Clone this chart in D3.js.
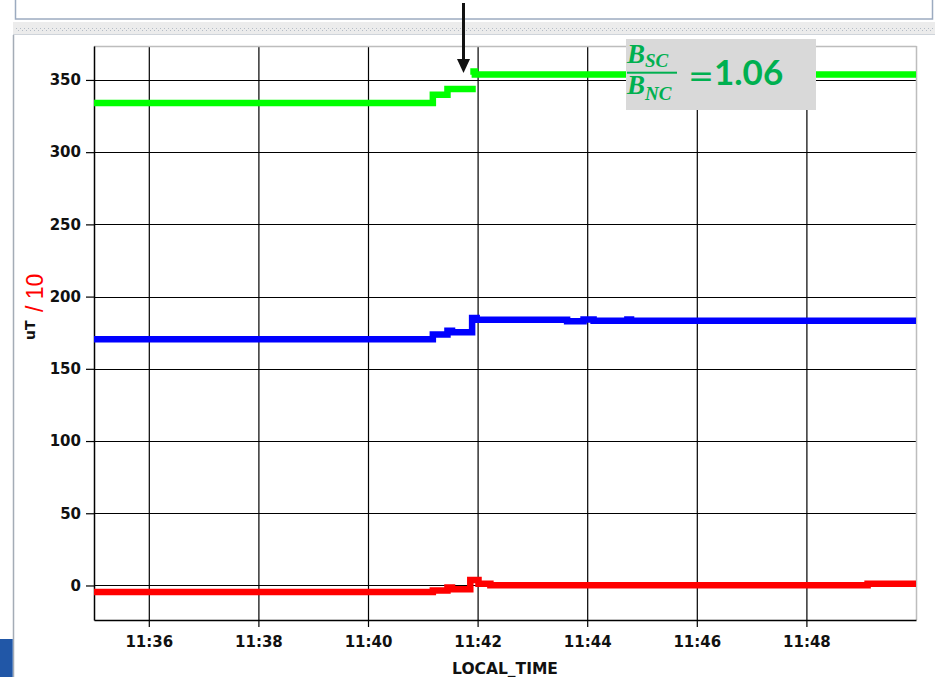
<!DOCTYPE html>
<html>
<head>
<meta charset="utf-8">
<script src="https://cdn.jsdelivr.net/npm/d3@7"></script>
<style>
  html, body { margin: 0; padding: 0; background: #ffffff; }
  svg { display: block; }
</style>
</head>
<body>
<svg id="chart" width="938" height="677"></svg>
<script>
// Magnetometer trace: field components (uT / 10) versus local time
const day = "2000-01-01T";

const xTickLabels = ["11:36", "11:38", "11:40", "11:42", "11:44", "11:46", "11:48"];
const yTickValues = [0, 50, 100, 150, 200, 250, 300, 350];
const timeDomain = ["11:35:00", "11:50:00"];
const valueDomain = [-23.9, 373.5];

// Green trace (two recorded segments)
const greenTimesA = ["11:35:00", "11:41:11", "11:41:27", "11:41:58"];
const greenValuesA = [334.0, 339.8, 343.8, 343.8];
const greenTimesB = ["11:41:52", "11:41:57", "11:50:00"];
const greenValuesB = [355.8, 353.8, 353.8];

// Blue trace
const blueTimes = ["11:35:00", "11:41:11", "11:41:27", "11:41:32", "11:41:54", "11:41:59", "11:43:38", "11:43:56", "11:44:07", "11:44:44", "11:44:48", "11:50:00"];
const blueValues = [170.5, 173.7, 176.3, 175.3, 185.2, 184.0, 183.0, 184.2, 183.2, 184.2, 183.2, 183.2];

// Red trace
const redTimes = ["11:35:00", "11:41:11", "11:41:27", "11:41:32", "11:41:52", "11:42:01", "11:42:14", "11:49:07", "11:50:00"];
const redValues = [-4.6, -3.5, -1.4, -2.6, 3.8, 1.2, 0.2, 1.2, 1.2];

// Ratio annotation
const ratioValue = "1.06";

const parseT = s => new Date(day + s);
const pairs = (ts, vs) => ts.map((t, i) => ({ t: parseT(t), v: vs[i] }));

const svg = d3.select("#chart");
const margin = { left: 94, top: 46, right: 916, bottom: 620 };

const x = d3.scaleTime().domain(timeDomain.map(parseT)).range([margin.left, margin.right]);
const y = d3.scaleLinear().domain(valueDomain).range([margin.bottom, margin.top]);

// ---------- window chrome ----------
svg.append("rect").attr("x", 0).attr("y", 0).attr("width", 938).attr("height", 677).attr("fill", "#ffffff");

// upper panel
svg.append("rect")
  .attr("x", 15.5).attr("y", -2).attr("width", 917).attr("height", 21)
  .attr("fill", "#ffffff").attr("stroke", "#9cabc0").attr("stroke-width", 1.5);

// splitter strip with dotted grip
const defs = svg.append("defs");
const pat = defs.append("pattern").attr("id", "grip").attr("patternUnits", "userSpaceOnUse")
  .attr("width", 4).attr("height", 4);
pat.append("rect").attr("width", 4).attr("height", 4).attr("fill", "#ececec");
pat.append("rect").attr("x", 0).attr("y", 0).attr("width", 1).attr("height", 1).attr("fill", "#b4bcc6");
pat.append("rect").attr("x", 2).attr("y", 2).attr("width", 1).attr("height", 1).attr("fill", "#b4bcc6");
svg.append("rect").attr("x", 13).attr("y", 22).attr("width", 922).attr("height", 12).attr("fill", "#ececec");
svg.append("rect").attr("x", 16).attr("y", 27).attr("width", 918).attr("height", 4).attr("fill", "url(#grip)");
svg.append("line").attr("x1", 13).attr("x2", 935).attr("y1", 34.5).attr("y2", 34.5)
  .attr("stroke", "#cfd4da").attr("stroke-width", 1);

// lower panel edge
svg.append("line").attr("x1", 13.5).attr("x2", 13.5).attr("y1", 35).attr("y2", 677)
  .attr("stroke", "#a4acb6").attr("stroke-width", 1.5);
svg.append("rect").attr("x", 0).attr("y", 639).attr("width", 12.7).attr("height", 38).attr("fill", "#2157a7");

// ---------- grid ----------
const grid = svg.append("g");
grid.selectAll("line.v").data(xTickLabels).join("line")
  .attr("x1", d => x(parseT(d + ":00")) + 0.5).attr("x2", d => x(parseT(d + ":00")) + 0.5)
  .attr("y1", margin.top).attr("y2", margin.bottom)
  .attr("stroke", "#000").attr("stroke-width", 1.2);
grid.selectAll("line.h").data(yTickValues).join("line")
  .attr("x1", margin.left).attr("x2", margin.right)
  .attr("y1", d => Math.round(y(d)) + 0.5).attr("y2", d => Math.round(y(d)) + 0.5)
  .attr("stroke", "#000").attr("stroke-width", 1.2);

// plot frame: light top/right, dark left/bottom
svg.append("line").attr("x1", margin.left).attr("x2", margin.right + 0.5).attr("y1", margin.top + 0.5).attr("y2", margin.top + 0.5)
  .attr("stroke", "#bdbdbd").attr("stroke-width", 1.5);
svg.append("line").attr("x1", margin.right + 0.5).attr("x2", margin.right + 0.5).attr("y1", margin.top).attr("y2", margin.bottom)
  .attr("stroke", "#bdbdbd").attr("stroke-width", 1.5);

// ---------- axes ----------
const axisFont = "'DejaVu Sans', Verdana, sans-serif";

const yAxis = svg.append("g").attr("transform", `translate(${margin.left},0)`)
  .call(d3.axisLeft(y).tickValues(yTickValues).tickSize(8).tickSizeOuter(0).tickPadding(5)
    .tickFormat(d3.format("d")));
const xAxis = svg.append("g").attr("transform", `translate(0,${margin.bottom})`)
  .call(d3.axisBottom(x).tickValues(xTickLabels.map(d => parseT(d + ":00"))).tickSize(7).tickSizeOuter(0)
    .tickPadding(9).tickFormat((d, i) => xTickLabels[i]));

[yAxis, xAxis].forEach(a => {
  a.select(".domain").attr("stroke", "#000").attr("stroke-width", 1.5);
  a.selectAll(".tick line").attr("stroke", "#000").attr("stroke-width", 1.2);
  a.selectAll(".tick text").attr("fill", "#111").attr("font-family", axisFont)
    .attr("font-weight", "bold").attr("font-size", 15);
});

// axis titles
svg.append("text").attr("x", 505).attr("y", 674).attr("text-anchor", "middle")
  .attr("font-family", axisFont).attr("font-weight", "bold").attr("font-size", 15.5).attr("fill", "#111")
  .text("LOCAL_TIME");
svg.append("text").attr("transform", "translate(35,340) rotate(-90)")
  .attr("font-family", axisFont).attr("font-weight", "bold").attr("font-size", 14).attr("fill", "#111")
  .text("uT");
svg.append("text").attr("transform", "translate(43,312) rotate(-90)")
  .attr("font-family", "'Liberation Sans', Arial, sans-serif").attr("font-size", 23).attr("fill", "#ff0000")
  .text("/ 10");

// ---------- traces ----------
const line = d3.line().x(d => x(d.t)).y(d => y(d.v)).curve(d3.curveStepAfter);
const traces = [
  { data: pairs(redTimes, redValues), color: "#ff0000" },
  { data: pairs(blueTimes, blueValues), color: "#0000ff" },
  { data: pairs(greenTimesA, greenValuesA), color: "#00ff00" },
  { data: pairs(greenTimesB, greenValuesB), color: "#00ff00" }
];
svg.append("g").selectAll("path").data(traces).join("path")
  .attr("d", d => line(d.data))
  .attr("fill", "none").attr("stroke", d => d.color).attr("stroke-width", 6.5)
  .attr("stroke-linejoin", "miter");

// ---------- event arrow ----------
svg.append("line").attr("x1", 463.5).attr("x2", 463.5).attr("y1", 3).attr("y2", 61)
  .attr("stroke", "#111").attr("stroke-width", 3);
svg.append("path").attr("d", "M457,59 L470,59 L463.5,73 Z").attr("fill", "#111");

// ---------- ratio annotation ----------
const ann = svg.append("g");
const annGreen = "#00b050";
const mathFont = "'Liberation Serif', 'DejaVu Serif', serif";
ann.append("rect").attr("x", 626).attr("y", 39).attr("width", 190).attr("height", 71).attr("fill", "#d9d9d9");
ann.append("text").attr("x", 627).attr("y", 63).attr("font-family", mathFont).attr("font-style", "italic")
  .attr("font-weight", "bold").attr("font-size", 27).attr("fill", annGreen)
  .text("B").append("tspan").attr("font-size", 19).attr("dy", 4).text("SC");
ann.append("rect").attr("x", 627).attr("y", 71.7).attr("width", 50).attr("height", 2).attr("fill", annGreen);
ann.append("text").attr("x", 627).attr("y", 94).attr("font-family", mathFont).attr("font-style", "italic")
  .attr("font-weight", "bold").attr("font-size", 27).attr("fill", annGreen)
  .text("B").append("tspan").attr("font-size", 19).attr("dy", 6).text("NC");
ann.append("text").attr("x", 688).attr("y", 86).attr("font-family", "'DejaVu Sans', sans-serif")
  .attr("font-size", 31).attr("fill", annGreen).text("=");
ann.append("text").attr("x", 714).attr("y", 85).attr("font-family", "Lato, 'Open Sans', sans-serif")
  .attr("font-weight", "bold").attr("font-size", 35).attr("fill", annGreen).text(ratioValue);
</script>
</body>
</html>
